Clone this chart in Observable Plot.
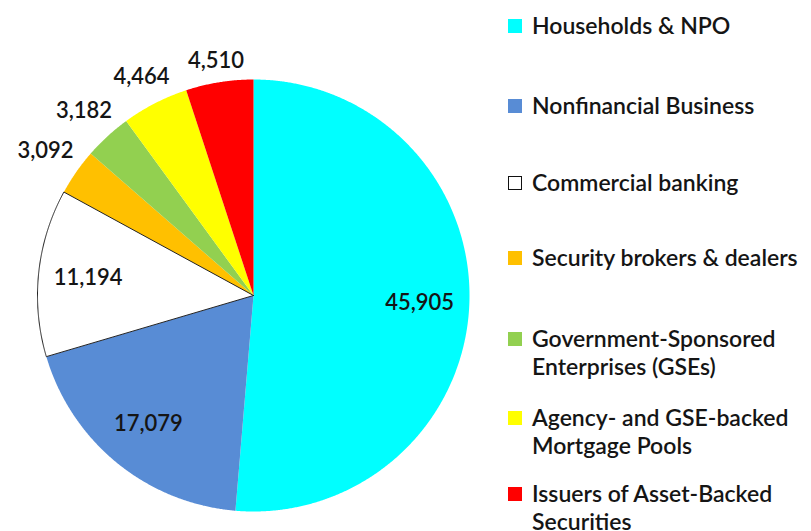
<!DOCTYPE html>
<html>
<head>
<meta charset="utf-8">
<script src="https://cdn.jsdelivr.net/npm/d3@7"></script>
<script src="https://cdn.jsdelivr.net/npm/@observablehq/plot@0.6"></script>
<style>
  html, body { margin: 0; padding: 0; background: #fff; }
  #wrap { position: relative; width: 811px; height: 531px; overflow: hidden; font-family: Lato, "Open Sans", sans-serif; }
  #chart { position: absolute; left: 0; top: 0; }
  .leg { position: absolute; left: 508px; color: #151515; font-size: 23px; line-height: 28.5px; font-weight: 600; }
  .sw { position: absolute; left: 0; width: 14px; height: 14px; box-sizing: border-box; }
  .lt { position: absolute; left: 24px; white-space: nowrap; }
</style>
</head>
<body>
<div id="wrap"><div id="chart"></div></div>
<script>
// ---- data ----
const categories = [
  "Households & NPO",
  "Nonfinancial Business",
  "Commercial banking",
  "Security brokers & dealers",
  "Government-Sponsored Enterprises (GSEs)",
  "Agency- and GSE-backed Mortgage Pools",
  "Issuers of Asset-Backed Securities"
];
const values = [45905, 17079, 11194, 3092, 3182, 4464, 4510];
const colors = ["#00FFFF", "#588CD5", "#FFFFFF", "#FFC000", "#92D050", "#FFFF00", "#FF0000"];
const legendLines = [
  ["Households & NPO"],
  ["Nonfinancial Business"],
  ["Commercial banking"],
  ["Security brokers & dealers"],
  ["Government-Sponsored", "Enterprises (GSEs)"],
  ["Agency- and GSE-backed", "Mortgage Pools"],
  ["Issuers of Asset-Backed", "Securities"]
];
const insideLabel = [true, true, true, false, false, false, false];

// ---- geometry ----
const W = 490, H = 531, cx = 253, cy = 295, R = 216;
const arcs = d3.pie().sort(null).value(d => d)(values);
const pts = [];
arcs.forEach((a, i) => {
  const cat = categories[i];
  pts.push({cat, x: 0, y: 0});
  const n = Math.max(2, Math.ceil((a.endAngle - a.startAngle) / 0.005));
  for (let k = 0; k <= n; k++) {
    const t = a.startAngle + (a.endAngle - a.startAngle) * k / n;
    pts.push({cat, x: Math.sin(t), y: Math.cos(t)});
  }
  pts.push({cat, x: 0, y: 0});
});
// outside labels: box-aware distance so the label box sits just beyond the rim
const boxW = 60 / R, boxH = 20 / R, gap = 7 / R;
const labelData = arcs.map((a, i) => {
  const m = (a.startAngle + a.endAngle) / 2;
  const s = Math.sin(m), c = Math.cos(m);
  const r = insideLabel[i] ? 0.77 : 1 + gap + 0.5 * (boxW * Math.abs(s) + boxH * Math.abs(c));
  return {x: r * s, y: r * c, text: d3.format(",")(values[i])};
});

const plot = Plot.plot({
  width: W, height: H,
  margin: 0,
  x: {domain: [-cx / R, (W - cx) / R], axis: null},
  y: {domain: [-(H - cy) / R, cy / R], axis: null},
  color: {domain: categories, range: colors},
  style: {fontFamily: "Lato, 'Open Sans', sans-serif", background: "transparent"},
  marks: [
    Plot.line(pts, {x: "x", y: "y", z: "cat", fill: "cat", stroke: null}),
    Plot.line(pts.filter(d => d.cat === "Commercial banking"), {x: "x", y: "y", z: "cat", stroke: "#222", strokeWidth: 1}),
    Plot.text(labelData, {x: "x", y: "y", text: "text", fontSize: 22, fontWeight: 600, fill: "#151515"})
  ]
});
document.getElementById("chart").appendChild(plot);

// ---- legend ----
const legendTop = [25, 105, 182, 257, 338, 417, 493];
const wrap = document.getElementById("wrap");
categories.forEach((c, i) => {
  const div = document.createElement("div");
  div.className = "leg";
  div.style.top = (legendTop[i] - 14.5) + "px";
  const sw = document.createElement("div");
  sw.className = "sw";
  sw.style.top = "8px";
  sw.style.background = colors[i];
  if (colors[i] === "#FFFFFF") sw.style.border = "1.5px solid #111";
  const t = document.createElement("div");
  t.className = "lt";
  t.innerHTML = legendLines[i].join("<br>");
  div.appendChild(sw); div.appendChild(t);
  wrap.appendChild(div);
});
</script>
</body>
</html>
